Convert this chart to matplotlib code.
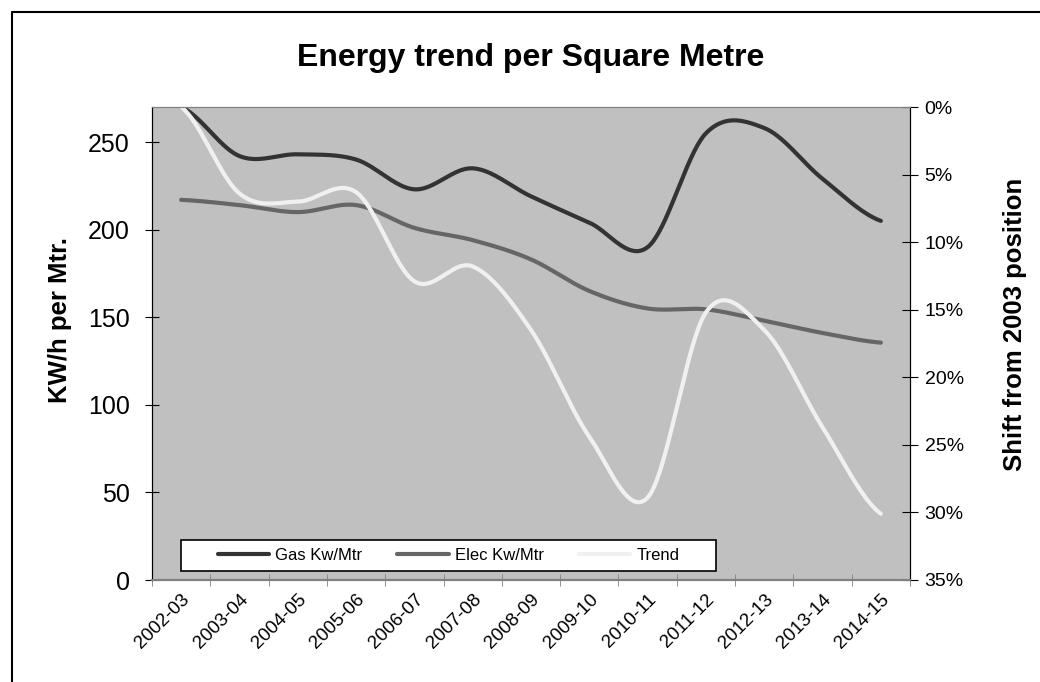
import numpy as np
import matplotlib.pyplot as plt
from matplotlib.lines import Line2D
from matplotlib.patches import Rectangle
from matplotlib.ticker import PercentFormatter

# dados
anos = ['2002-03', '2003-04', '2004-05', '2005-06', '2006-07', '2007-08', '2008-09',
        '2009-10', '2010-11', '2011-12', '2012-13', '2013-14', '2014-15']
gas = [270, 242, 243, 240, 223, 235, 219, 204, 190, 255, 258, 229, 205]
elec = [217, 214, 210, 214, 201, 194, 183, 165, 155, 154.5, 148, 141, 135.5]
trend = [0.0, 6.4, 7.0, 6.3, 12.9, 11.8, 16.5, 24.4, 28.9, 15.2, 16.5, 23.7, 30.1]

plt.rcParams['font.family'] = ['Liberation Sans', 'DejaVu Sans']


def suavizar(y, n=40):
    # curva suave tipo Excel (Catmull-Rom)
    y = np.asarray(y, dtype=float)
    p = np.concatenate([[y[0]], y, [y[-1]]])
    xs, ys = [], []
    t = np.linspace(0, 1, n, endpoint=False)
    for i in range(len(y) - 1):
        p0, p1, p2, p3 = p[i], p[i + 1], p[i + 2], p[i + 3]
        c1 = p1 + (p2 - p0) / 6
        c2 = p2 - (p3 - p1) / 6
        b = (1 - t)**3 * p1 + 3 * (1 - t)**2 * t * c1 + 3 * (1 - t) * t**2 * c2 + t**3 * p2
        xs.append(i + t)
        ys.append(b)
    xs.append([len(y) - 1])
    ys.append([y[-1]])
    return np.concatenate(xs), np.concatenate(ys)


fig = plt.figure(figsize=(10.4, 6.82), dpi=100)
ax = fig.add_axes([152/1040, 1 - 580/682, 758/1040, 473/682])
ax.set_facecolor('#c0c0c0')
ax2 = ax.twinx()

xg, yg = suavizar(gas)
xe, ye = suavizar(elec)
xt, yt = suavizar(trend)
l1, = ax.plot(xg, yg, color='#333333', lw=3, solid_capstyle='round', label='Gas Kw/Mtr')
l2, = ax.plot(xe, ye, color='#666666', lw=3, solid_capstyle='round', label='Elec Kw/Mtr')
l3, = ax2.plot(xt, yt, color='#f0f0f0', lw=3, solid_capstyle='round', label='Trend')

ax.set_xlim(-0.5, len(anos) - 0.5)
ax.set_ylim(0, 270)
ax.set_yticks(range(0, 251, 50))
ax2.set_ylim(35, 0)
ax2.set_yticks(range(0, 36, 5))
ax2.yaxis.set_major_formatter(PercentFormatter(decimals=0))

ax.set_xticks(range(len(anos)))
ax.set_xticklabels(anos, rotation=45, ha='right', rotation_mode='anchor', fontsize=13.5)
ax.set_xticks(np.arange(-0.5, len(anos)), minor=True)
ax.tick_params(axis='x', which='major', length=0, pad=8)
ax.tick_params(axis='x', which='minor', length=8, direction='inout', color='#808080')
ax.tick_params(axis='y', labelsize=18, length=10, direction='inout', pad=11)
ax2.tick_params(axis='y', labelsize=14, length=11, direction='inout', pad=5)

for a in (ax, ax2):
    a.spines['top'].set_color('#808080')
    a.spines['bottom'].set_color('#808080')
    a.spines['bottom'].set_linewidth(1.5)
    a.spines['left'].set_color('black')
    a.spines['right'].set_color('black')

ax.set_ylabel('KW/h per Mtr.', fontsize=18.5, fontweight='bold')
ax.yaxis.set_label_coords(-0.1055, 0.55)
ax2.set_ylabel('Shift from 2003 position', fontsize=18.5, fontweight='bold')
ax2.yaxis.set_label_coords(1.1227, 0.54)
fig.text(531/1040, 1 - 58/682, 'Energy trend per Square Metre', fontsize=23,
         fontweight='bold', ha='center', va='center')

# caixa da legenda
caixa = Rectangle((0.038, 0.020), 0.706, 0.0656, transform=ax.transAxes,
                  facecolor='white', edgecolor='black', lw=1.2, zorder=9)
ax2.add_patch(caixa)
leg = ax2.legend(handles=[l1, l2, l3], loc='center', ncol=3,
                 bbox_to_anchor=(0.038 + 0.706/2, 0.020 + 0.0656/2), fontsize=12,
                 frameon=False, handlelength=3.1, handletextpad=0.35,
                 columnspacing=2.1, borderaxespad=0, borderpad=0)
leg.set_zorder(10)

# moldura do gráfico (esquerda e topo)
fig.add_artist(Line2D([12/1040, 12/1040, 1], [0, 1 - 12/682, 1 - 12/682],
                      transform=fig.transFigure, color='black', lw=1.5))

fig.savefig('out.png', dpi=100)
